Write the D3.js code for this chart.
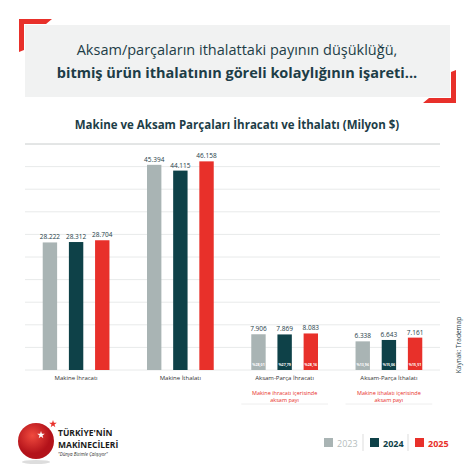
<!DOCTYPE html>
<html>
<head>
<meta charset="utf-8">
<script src="https://cdn.jsdelivr.net/npm/d3@7"></script>
<style>
body { margin: 0; background: #fff; }
text { font-family: "Open Sans", sans-serif; }
</style>
</head>
<body>
<div class="chart"></div>
<script>
var categories = ["Makine İhracatı", "Makine İthalatı", "Aksam-Parça İhracatı", "Aksam-Parça İthalatı"];
var years = ["2023", "2024", "2025"];
var values2023 = [28222, 45394, 7906, 6338];
var values2024 = [28312, 44115, 7869, 6643];
var values2025 = [28704, 46158, 8083, 7161];
var valueLabels = [
    ["28.222", "28.312", "28.704"],
    ["45.394", "44.115", "46.158"],
    ["7.906", "7.869", "8.083"],
    ["6.338", "6.643", "7.161"]
];
var shareLabels = [null, null, ["%28,01", "%27,79", "%28,16"], ["%13,96", "%15,06", "%15,51"]];
var notes = [null, null, ["Makine ihracatı içerisinde", "aksam payı"], ["Makine ithalatı içerisinde", "aksam payı"]];
var colors = ["#a9b4b4", "#0e4148", "#e8302a"];
var dark = "#1d3d47";

var svgWidth = 475, svgHeight = 475;
var svg = d3.select(".chart").append("svg")
    .attr("width", svgWidth).attr("height", svgHeight);

// header box with red corners
svg.append("rect").attr("x", 25).attr("y", 25).attr("width", 425).attr("height", 72).attr("fill", "#f1f2f2");
svg.append("path").attr("d", "M19,19 H52 L46,24 H24 V50 L19,52 Z").attr("fill", "#e8302a");
svg.append("path").attr("d", "M456,103 H423 L429,98 H451 V72 L456,70 Z").attr("fill", "#e8302a");
svg.append("text").attr("x", 237).attr("y", 55).attr("text-anchor", "middle")
    .attr("font-size", 14.5).attr("fill", dark).text("Aksam/parçaların ithalattaki payının düşüklüğü,");
svg.append("text").attr("x", 237).attr("y", 78).attr("text-anchor", "middle")
    .attr("font-size", 14.5).attr("font-weight", "bold").attr("fill", dark).text("bitmiş ürün ithalatının göreli kolaylığının işareti...");

svg.append("text").attr("x", 237).attr("y", 129).attr("text-anchor", "middle")
    .attr("font-size", 11.5).attr("font-weight", "bold").attr("fill", dark)
    .text("Makine ve Aksam Parçaları İhracatı ve İthalatı (Milyon $)");

var x0 = d3.scaleBand().domain(categories).range([25, 440]).paddingInner(0.36).paddingOuter(0.17);
var x1 = d3.scaleBand().domain(years).range([0, x0.bandwidth()]).paddingInner(0.45);
var y = d3.scaleLinear().domain([0, 50000]).range([370, 144]);

// gridlines
svg.append("g").selectAll("line").data(y.ticks(10)).enter().append("line")
    .attr("x1", 25).attr("x2", 440)
    .attr("y1", d => y(d)).attr("y2", d => y(d))
    .attr("stroke", d => d === 50000 ? "#c8cccc" : "#e8eaea").attr("stroke-width", 1);

var series = [values2023, values2024, values2025];
categories.forEach(function (cat, i) {
    var g = svg.append("g").attr("transform", `translate(${x0(cat)},0)`);
    years.forEach(function (yr, j) {
        var v = series[j][i];
        g.append("rect").attr("x", x1(yr)).attr("y", y(v))
            .attr("width", x1.bandwidth()).attr("height", y(0) - y(v)).attr("fill", colors[j]);
        g.append("text").attr("x", x1(yr) + x1.bandwidth() / 2).attr("y", y(v) - 3)
            .attr("text-anchor", "middle").attr("font-size", 6.5).attr("fill", dark).text(valueLabels[i][j]);
        if (shareLabels[i]) {
            g.append("text").attr("x", x1(yr) + x1.bandwidth() / 2).attr("y", y(0) - 4)
                .attr("text-anchor", "middle").attr("font-size", 3.6).attr("font-weight", "bold")
                .attr("fill", "#fff").text(shareLabels[i][j]);
        }
    });
    g.append("text").attr("x", x0.bandwidth() / 2).attr("y", 380)
        .attr("text-anchor", "middle").attr("font-size", 6).attr("fill", "#333").text(cat);
    if (notes[i]) {
        notes[i].forEach(function (n, k) {
            g.append("text").attr("x", x0.bandwidth() / 2).attr("y", 395 + k * 7)
                .attr("text-anchor", "middle").attr("font-size", 5.5).attr("fill", "#e8302a").text(n);
        });
        g.append("line").attr("x1", -10).attr("x2", x0.bandwidth() + 10).attr("y1", 404).attr("y2", 404)
            .attr("stroke", "#eee");
    }
});

svg.append("text").attr("transform", "translate(461,345) rotate(-90)")
    .attr("text-anchor", "middle").attr("font-size", 6.5).attr("fill", dark).text("Kaynak: Trademap");

// logo
var grad = svg.append("defs").append("radialGradient").attr("id", "lg").attr("cx", "40%").attr("cy", "35%");
grad.append("stop").attr("offset", "0%").attr("stop-color", "#f04a3e");
grad.append("stop").attr("offset", "100%").attr("stop-color", "#b3121a");
svg.append("ellipse").attr("cx", 36).attr("cy", 462).attr("rx", 14).attr("ry", 2).attr("fill", "#ddd");
svg.append("circle").attr("cx", 36).attr("cy", 441).attr("r", 18).attr("fill", "url(#lg)");
var star = d3.symbol().type(d3.symbolStar);
svg.append("path").attr("d", star.size(18)()).attr("transform", "translate(41,435)").attr("fill", "#fff");
svg.append("path").attr("d", star.size(18)()).attr("transform", "translate(53,424)").attr("fill", "#e8302a");
svg.append("text").attr("x", 58).attr("y", 436).attr("font-size", 8.5).attr("font-weight", "bold").attr("fill", "#1b1b1b").text("TÜRKİYE'NİN");
svg.append("text").attr("x", 58).attr("y", 448).attr("font-size", 8.5).attr("font-weight", "bold").attr("fill", "#1b1b1b").text("MAKİNECİLERİ");
svg.append("text").attr("x", 58).attr("y", 456).attr("font-size", 4.5).attr("font-style", "italic").attr("fill", "#333").text("\"Dünya Bizimle Çalışıyor\"");

// legend
var legX = [324, 370, 415];
years.forEach(function (yr, j) {
    svg.append("rect").attr("x", legX[j]).attr("y", 438).attr("width", 9).attr("height", 9).attr("fill", colors[j]);
    svg.append("text").attr("x", legX[j] + 13).attr("y", 446.5).attr("font-size", 9)
        .attr("font-weight", j === 0 ? "normal" : "bold")
        .attr("fill", j === 0 ? "#b5bdbd" : colors[j]).text(yr);
    if (j > 0) svg.append("line").attr("x1", legX[j] - 7).attr("x2", legX[j] - 7).attr("y1", 434).attr("y2", 451).attr("stroke", "#ddd");
});
</script>
</body>
</html>
